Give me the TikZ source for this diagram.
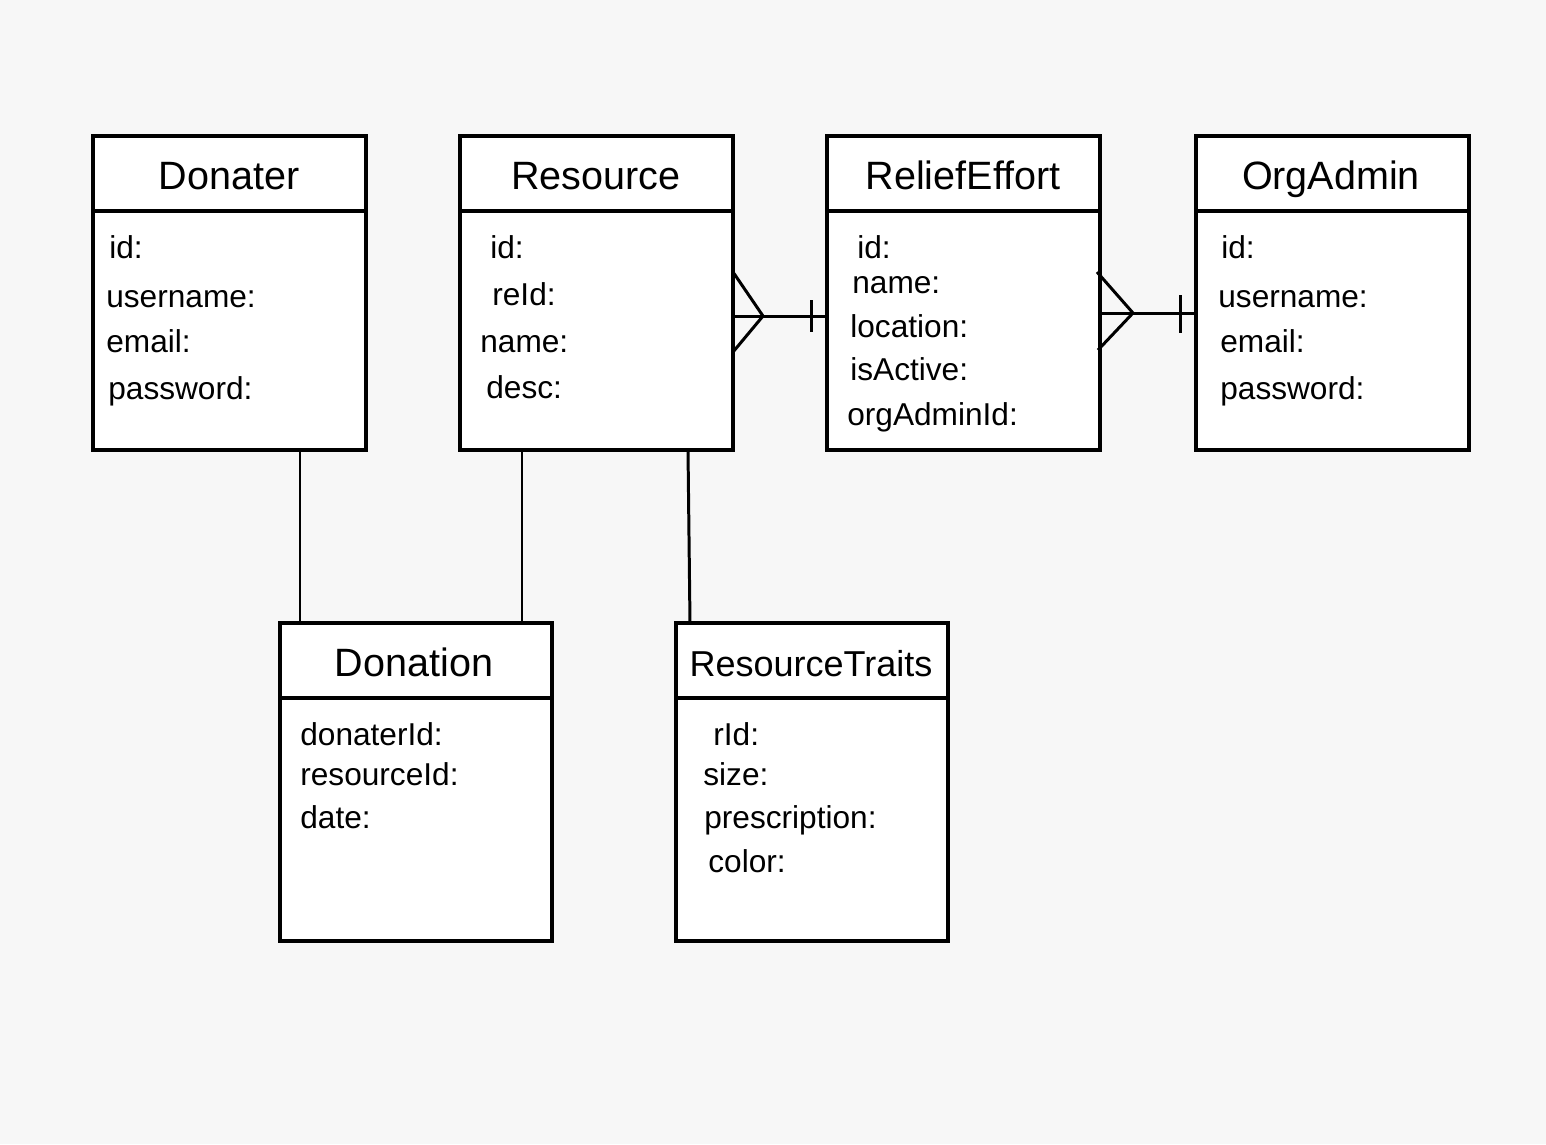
\documentclass[tikz,border=0pt]{standalone}
\usepackage{fontspec}
\setmainfont{Liberation Sans}
\usetikzlibrary{calc, shadows}
\definecolor{canvas}{HTML}{F7F7F7}

\begin{document}
\begin{tikzpicture}[x=0.02cm, y=-0.02cm,
    entity/.style={draw, line width=2pt, fill=white, anchor=north west, inner sep=0pt, outer sep=0pt, minimum width=5.46cm, minimum height=6.28cm, drop shadow={shadow xshift=0.6pt, shadow yshift=-0.9pt, opacity=0.3}},
    lowentity/.style={entity, minimum width=5.44cm, minimum height=6.36cm},
    title/.style={anchor=base, inner sep=0pt, font=\fontsize{22.5}{26}\selectfont},
    attr/.style={anchor=base west, inner sep=0pt, font=\fontsize{18}{22}\selectfont},
    link/.style={line width=1.7pt}]
  \fill[canvas] (0, 0) rectangle (1546, 1144);

  % boxes
  \node[entity] (donater) at (93, 136) {};
  \node[entity] (resource) at (460, 136) {};
  \node[entity] (relief) at (827, 136) {};
  \node[entity] (orgadmin) at (1196, 136) {};
  \node[lowentity] (donation) at (280, 623) {};
  \node[lowentity] (traits) at (676, 623) {};
  \foreach \e in {donater,resource,relief,orgadmin,donation,traits}
    \draw[line width=2pt] ([yshift=-1.5cm]\e.north west) -- ([yshift=-1.5cm]\e.north east);

  % titles
  \node[title] (donaterT) at (229, 189) {Donater};
  \node[title] (resourceT) at (596, 189) {Resource};
  \node[title] (reliefT) at (963, 189) {ReliefEffort};
  \node[title] (orgadminT) at (1331, 189) {OrgAdmin};
  \node[title] (donationT) at (414, 676) {Donation};
  \node[title, font=\fontsize{20.5}{24}\selectfont] (traitsT) at (811, 676) {ResourceTraits};

  % attributes
  \node[attr] (d1) at (109, 258) {id:};
  \node[attr] (d2) at (106, 307) {username:};
  \node[attr] (d3) at (106, 352) {email:};
  \node[attr] (d4) at (108, 399) {password:};

  \node[attr] (r1) at (490, 258) {id:};
  \node[attr] (r2) at (492, 305) {reId:};
  \node[attr] (r3) at (480, 352) {name:};
  \node[attr] (r4) at (486, 398) {desc:};

  \node[attr] (e1) at (857, 258) {id:};
  \node[attr] (e2) at (852, 293) {name:};
  \node[attr] (e3) at (850, 337) {location:};
  \node[attr] (e4) at (850, 380) {isActive:};
  \node[attr] (e5) at (847, 425) {orgAdminId:};

  \node[attr] (o1) at (1221, 258) {id:};
  \node[attr] (o2) at (1218, 307) {username:};
  \node[attr] (o3) at (1220, 352) {email:};
  \node[attr] (o4) at (1220, 399) {password:};

  \node[attr] (n1) at (300, 745) {donaterId:};
  \node[attr] (n2) at (300, 785) {resourceId:};
  \node[attr] (n3) at (300, 828) {date:};

  \node[attr] (t1) at (713, 745) {rId:};
  \node[attr] (t2) at (703, 785) {size:};
  \node[attr] (t3) at (704, 828) {prescription:};
  \node[attr] (t4) at (708, 872) {color:};

  % many-to-one links
  \coordinate (tip1) at (763, 316);
  \coordinate (bar1) at (811, 316);
  \draw[link] (resource.east |- tip1) -- (relief.west |- tip1);
  \draw[link] ($(tip1)+(-30,-44)$) -- (tip1) -- ($(tip1)+(-30,36)$);
  \draw[link] ($(bar1)+(0,-16)$) -- ($(bar1)+(0,16)$);

  \coordinate (tip2) at (1133, 313);
  \coordinate (bar2) at (1180, 314);
  \draw[link] (relief.east |- tip2) -- (orgadmin.west |- tip2);
  \draw[link] ($(tip2)+(-36,-41)$) -- (tip2) -- ($(tip2)+(-35,37)$);
  \draw[link] ($(bar2)+(0,-19)$) -- ($(bar2)+(0,19)$);

  % links down
  \coordinate (j1) at (300, 0);
  \coordinate (j2) at (522, 0);
  \coordinate (j3) at (688, 0);
  \coordinate (j4) at (690, 0);
  \draw[link] (donater.south -| j1) -- (donation.north -| j1);
  \draw[link] (resource.south -| j2) -- (donation.north -| j2);
  \draw[link] (resource.south -| j3) -- (traits.north -| j4);
\end{tikzpicture}
\end{document}
